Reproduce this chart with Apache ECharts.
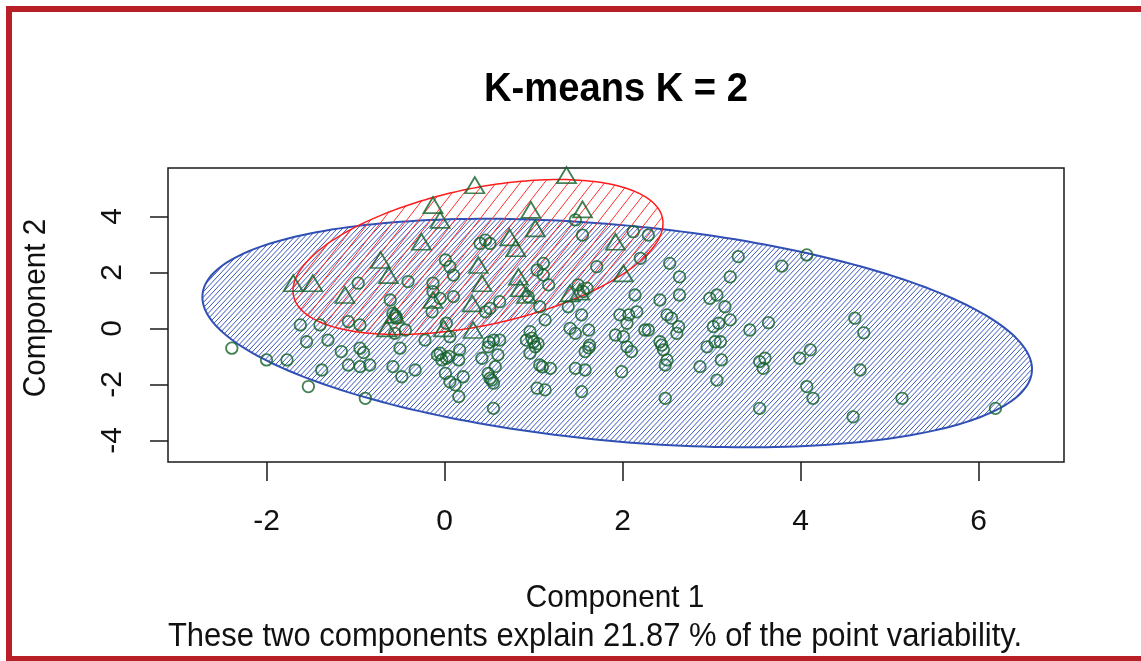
<!DOCTYPE html>
<html><head><meta charset="utf-8">
<script src="https://cdn.jsdelivr.net/npm/echarts@6/dist/echarts.min.js"></script>
<style>html,body{margin:0;padding:0;background:#fff}#c{width:1141px;height:661px}</style>
</head><body><div id="c"></div>
<script>
const xTicks = [-2, 0, 2, 4, 6];
const yTicks = [-4, -2, 0, 2, 4];

// cluster 2 points (triangles): [Component 1, Component 2]
const triangles = [
[0.34,5.11],[1.37,5.47],[-0.13,4.40],[-0.05,3.87],[0.97,4.23],[1.55,4.25],[1.02,3.57],
[-0.26,3.09],[0.73,3.25],[0.80,2.86],[1.92,3.09],[-0.72,2.44],[-0.63,1.90],[0.38,2.26],
[0.42,1.61],[2.01,1.96],[-1.70,1.61],[-1.48,1.61],[-1.12,1.19],[-0.13,1.01],[0.31,0.89],
[0.85,1.43],[0.92,1.19],[1.52,1.31],[0.32,-0.06],[-0.01,0.00],[-0.56,0.48],[1.41,1.25],
[0.83,1.84],[-0.65,0.00]
];

// cluster 1 points (circles): [Component 1, Component 2]
const circles = [
[1.47,3.87],[1.55,3.33],[2.12,3.45],[2.29,3.33],[0.46,3.15],[0.51,3.03],[0.40,3.03],
[0.01,2.44],[0.06,2.20],[0.10,1.90],[-0.41,1.67],[-0.13,1.61],[-0.97,1.61],
[1.11,2.32],[1.17,1.55],[1.11,1.90],[1.71,2.20],[2.20,2.50],[2.53,2.32],
[2.14,1.19],[2.42,1.01],[-0.61,1.01],[0.10,1.13],[-0.05,1.07],[0.62,0.95],
[0.51,0.71],[0.46,0.59],[1.07,0.77],[1.13,0.30],[1.54,0.48],[1.62,-0.06],
[1.47,-0.18],[1.97,0.48],[2.07,0.48],[2.05,0.18],[2.25,-0.06],[2.50,0.48],
[2.55,0.36],[-1.62,0.12],[-1.40,0.12],[-1.55,-0.48],[-1.31,-0.42],[-1.08,0.24],
[-0.95,0.12],[-0.58,0.53],[-0.54,0.36],[-0.44,-0.06],[-0.56,-0.18],[0.02,0.18],
[0.06,-0.30],[0.17,-0.77],[-0.22,-0.42],[-0.50,-0.71],[-0.95,-0.71],[-0.91,-0.87],
[-1.16,-0.83],[-0.05,-0.89],[-0.03,-1.13],[0.02,-1.07],[0.16,-1.13],[0.55,-0.42],
[0.62,-0.42],[0.49,-0.66],[0.92,-0.42],[1.00,-0.48],[1.02,-0.66],[0.96,-0.12],
[1.63,-0.60],[1.58,-0.83],[1.92,-0.24],[2.01,-0.30],[2.05,-0.66],[2.10,-0.83],
[2.42,-0.48],[2.46,-0.77],[2.50,-1.13],[-2.39,-0.71],[-2.00,-1.13],[-1.77,-1.13],
[-1.38,-1.49],[-1.08,-1.31],[-0.95,-1.37],[-0.84,-1.31],[-0.58,-1.37],[-0.48,-1.73],
[-0.33,-1.49],[0.01,-1.61],[0.06,-1.91],[0.12,-2.02],[0.21,-1.73],[0.49,-1.61],
[0.57,-1.37],[0.55,-1.96],[0.51,-1.79],[1.07,-1.31],[1.19,-1.43],[1.04,-2.14],
[1.13,-2.20],[1.47,-1.43],[1.58,-1.49],[1.99,-1.55],[-1.53,-2.08],[-0.89,-2.50],
[0.16,-2.44],[0.55,-2.86],[1.54,-2.26],[2.48,-2.50],
[1.50,1.55],[1.56,1.31],[1.60,1.43],[1.04,2.08],[0.94,1.13],[-0.14,0.59],[-0.13,1.31],
[1.39,0.77],[1.41,0.00],[0.96,-0.89],[0.60,-0.95],[0.42,-1.07],
[0.98,-0.35],[1.05,-0.55],[-0.08,-0.95],[0.05,-1.00],[1.62,-0.70],[0.53,-1.85],
[-0.55,0.45],[0.50,-0.50],[1.10,-1.38],
[2.64,1.84],[2.64,1.19],[2.16,0.59],[2.63,0.06],[2.61,-0.18],[2.29,-0.06],[2.44,-0.60],[2.48,-1.31],
[2.98,1.07],[3.06,1.19],[3.15,0.77],[3.21,0.30],[3.02,0.06],[3.08,0.18],[3.04,-0.48],[2.95,-0.66],
[3.10,-0.48],[2.87,-1.37],[3.11,-1.13],[3.06,-1.85],
[3.30,2.56],[3.21,1.84],[3.79,2.22],[4.07,2.62],[3.43,-0.06],[3.64,0.20],[3.54,-1.19],[3.60,-1.07],
[3.58,-1.43],[3.99,-1.07],[4.11,-0.77],[3.54,-2.86],[4.07,-2.08],[4.14,-2.50],[4.61,0.36],[4.71,-0.16],
[4.67,-1.49],[4.59,-3.16],[5.14,-2.50],[6.19,-2.86]
];

// cluster ellipses: [centre x, centre y, var x, cov xy, var y]
const clusterEllipses = [
[1.94, -0.17, 21.72, -6.0, 16.65],
[0.376, 2.546, 4.32, 2.5, 7.66]
];

const FONT = '"Liberation Sans", Arial, sans-serif';
const ellipseStyle = [
  {color: '#3150b5', hatch: '#3a58bd', angle: 47, gap: 3.66, width: 2},
  {color: '#ff1c1c', hatch: '#ff3030', angle: 52, gap: 9.5, width: 1.5}
];

function renderEllipse(params, api) {
  const st = ellipseStyle[params.dataIndex];
  const cx = api.value(0), cy = api.value(1);
  const sxx = api.value(2), sxy = api.value(3), syy = api.value(4);
  const l11 = Math.sqrt(sxx), l21 = sxy / l11, l22 = Math.sqrt(syy - l21 * l21);
  const N = 240, pts = [];
  for (let k = 0; k < N; k++) {
    const t = 2 * Math.PI * k / N;
    pts.push(api.coord([cx + l11 * Math.cos(t), cy + l21 * Math.cos(t) + l22 * Math.sin(t)]));
  }
  const th = st.angle * Math.PI / 180;
  const nx = Math.sin(th), ny = Math.cos(th);
  let cmin = Infinity, cmax = -Infinity;
  pts.forEach(p => { const c = nx * p[0] + ny * p[1]; if (c < cmin) cmin = c; if (c > cmax) cmax = c; });
  const children = [];
  for (let c = Math.ceil(cmin / st.gap) * st.gap; c < cmax; c += st.gap) {
    const hits = [];
    for (let k = 0; k < N; k++) {
      const a = pts[k], b = pts[(k + 1) % N];
      const fa = nx * a[0] + ny * a[1] - c, fb = nx * b[0] + ny * b[1] - c;
      if ((fa <= 0 && fb > 0) || (fa > 0 && fb <= 0)) {
        const s = fa / (fa - fb);
        hits.push([a[0] + s * (b[0] - a[0]), a[1] + s * (b[1] - a[1])]);
      }
    }
    if (hits.length >= 2) {
      children.push({type: 'line', shape: {x1: hits[0][0], y1: hits[0][1], x2: hits[1][0], y2: hits[1][1]},
        style: {stroke: st.hatch, lineWidth: 1}});
    }
  }
  children.push({type: 'polygon', shape: {points: pts}, style: {fill: 'none', stroke: st.color, lineWidth: st.width}});
  return {type: 'group', children};
}

const chart = echarts.init(document.getElementById('c'), null, {renderer: 'canvas'});
chart.setOption({
  animation: false,
  backgroundColor: '#ffffff',
  grid: {left: 168, top: 168, width: 896, height: 294, show: true, borderColor: '#1a1a1a', borderWidth: 1.5,
    backgroundColor: 'transparent', containLabel: false, outerBoundsMode: 'none'},
  xAxis: {
    type: 'value', min: -3.107, max: 6.96, position: 'bottom',
    axisLine: {show: false, onZero: false}, splitLine: {show: false},
    axisTick: {show: true, inside: false, customValues: xTicks, length: 19, lineStyle: {color: '#1a1a1a', width: 1.5}},
    axisLabel: {customValues: xTicks, fontSize: 30, color: '#111', margin: 45, fontFamily: FONT}
  },
  yAxis: {
    type: 'value', min: -4.775, max: 5.725, position: 'left',
    axisLine: {show: false, onZero: false}, splitLine: {show: false},
    axisTick: {show: true, inside: false, customValues: yTicks, length: 18, lineStyle: {color: '#1a1a1a', width: 1.5}},
    axisLabel: {customValues: yTicks, fontSize: 30, color: '#111', margin: 40, rotate: 90, fontFamily: FONT}
  },
  series: [
    {type: 'custom', name: 'ellipses', data: clusterEllipses, renderItem: renderEllipse, z: 1,
     encode: {x: 0, y: 1}, clip: true, silent: true},
    {type: 'scatter', name: 'Cluster 1', data: circles, symbol: 'circle', symbolSize: 11.5, z: 3,
     itemStyle: {color: 'rgba(0,0,0,0)', borderColor: '#13622a', borderWidth: 1.8}},
    {type: 'scatter', name: 'Cluster 2', data: triangles, symbol: 'triangle', symbolSize: [19, 16], z: 3,
     itemStyle: {color: 'rgba(0,0,0,0)', borderColor: '#13622a', borderWidth: 1.8}}
  ],
  graphic: [
    {type: 'rect', silent: true, z: 100, shape: {x: 9, y: 9, width: 1160, height: 650},
     style: {fill: 'none', stroke: '#b81f26', lineWidth: 6}},
    {type: 'text', x: 616, y: 90, scaleX: 0.93,
     style: {text: 'K-means K = 2', fontSize: 41, fontWeight: 'bold', fontFamily: FONT, fill: '#000', align: 'center', verticalAlign: 'middle'}},
    {type: 'text', x: 615, y: 598, scaleX: 0.93,
     style: {text: 'Component 1', fontSize: 32, fontFamily: FONT, fill: '#111', align: 'center', verticalAlign: 'middle'}},
    {type: 'text', x: 595, y: 637, scaleX: 0.91,
     style: {text: 'These two components explain 21.87 % of the point variability.', fontSize: 34, fontFamily: FONT, fill: '#111', align: 'center', verticalAlign: 'middle'}},
    {type: 'text', x: 36, y: 308, rotation: Math.PI / 2, scaleX: 0.93,
     style: {text: 'Component 2', fontSize: 32, fontFamily: FONT, fill: '#111', align: 'center', verticalAlign: 'middle'}}
  ]
});
</script></body></html>
